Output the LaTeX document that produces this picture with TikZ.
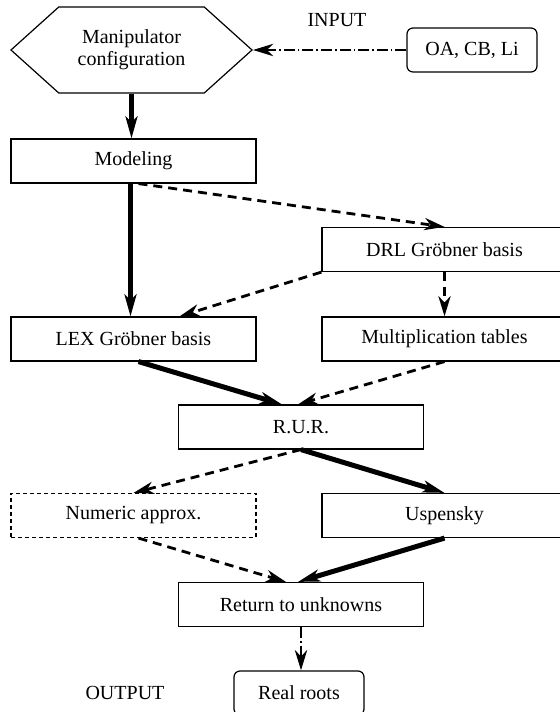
\documentclass[tikz,border=0pt]{standalone}
\usepackage{fontspec}
\setmainfont{Liberation Serif}
\usetikzlibrary{arrows.meta}
\usetikzlibrary{shapes.symbols}
\tikzstyle{blk}=[draw, rectangle, line width=0.6pt, minimum width=122.5pt, minimum height=22pt, inner sep=2pt]
\tikzstyle{rnd}=[draw, rectangle, rounded corners=3pt, line width=0.6pt, minimum width=65pt, minimum height=22pt]
\tikzstyle{hex}=[draw, signal, signal to=west and east, signal pointer angle=84, line width=0.6pt, minimum width=120.5pt, minimum height=43pt, align=center]
\tikzstyle{thk}=[line width=2.5pt, -{Stealth[open, length=11pt, width=6pt, inset=3pt]}]
\tikzstyle{dsh}=[line width=1.4pt, dash pattern=on 4.5pt off 3pt, -{Stealth[open, length=10pt, width=6pt, inset=3pt, line width=1.8pt]}]
\tikzstyle{dsd}=[line width=1.1pt, dash pattern=on 5.5pt off 1.5pt on 0.8pt off 1.5pt, -{Stealth[open, length=10pt, width=6pt, inset=3pt, line width=1.8pt]}]

\begin{document}
\begin{tikzpicture}[x=5pt, y=5pt, font=\fontsize{10}{11}\selectfont]
    \useasboundingbox (0,0) rectangle (56,71.2);
    \clip (0,0) rectangle (56,71.2);

    \node [hex] (conf)  at (13.15,66.2) {Manipulator\\configuration};
    \node [rnd] (oa)    at (47.2,66.2)  {OA, CB, Li};
    \node       (inp)   at (33.7,69.2)  {INPUT};
    \node [blk] (model) at (13.35,55.1) {Modeling};
    \node [blk] (drl)   at (44.45,46.25) {DRL Gr\"obner basis};
    \node [blk] (lex)   at (13.35,37.3) {LEX Gr\"obner basis};
    \node [blk] (mult)  at (44.45,37.3) {Multiplication tables};
    \node [blk] (rur)   at (30.1,28.5)  {R.U.R.};
    \node [blk, dash pattern=on 2pt off 1.5pt] (num) at (13.35,19.65) {Numeric approx.};
    \node [blk] (usp)   at (44.45,19.65) {Uspensky};
    \node [blk] (ret)   at (30.1,10.75) {Return to unknowns};
    \node [rnd] (real)  at (29.9,1.9)   {Real roots};
    \node       (outp)  at (12.5,1.9)   {OUTPUT};

    \path [dsd] (oa.west) edge (conf.east)
                (ret.south) edge (ret.south |- real.north);
    \path [thk] (conf.south) edge (conf.south |- model.north)
                ([xshift=-1.5pt]model.south) edge ([xshift=-1.5pt]lex.north)
                ([xshift=2.5pt]lex.south) edge ([xshift=-9.5pt]rur.north)
                (rur.south) edge (usp.north)
                (usp.south) edge ([xshift=-1.5pt]ret.north);
    \path [dsh] ([xshift=2.5pt]model.south) edge (drl.north)
                (drl.south west) edge ([xshift=23pt]lex.north)
                (drl.south) edge (mult.north)
                (mult.south) edge ([xshift=-1.5pt]rur.north)
                (rur.south) edge (num.north)
                ([xshift=2.5pt]num.south) edge ([xshift=-7.5pt]ret.north);
\end{tikzpicture}
\end{document}
